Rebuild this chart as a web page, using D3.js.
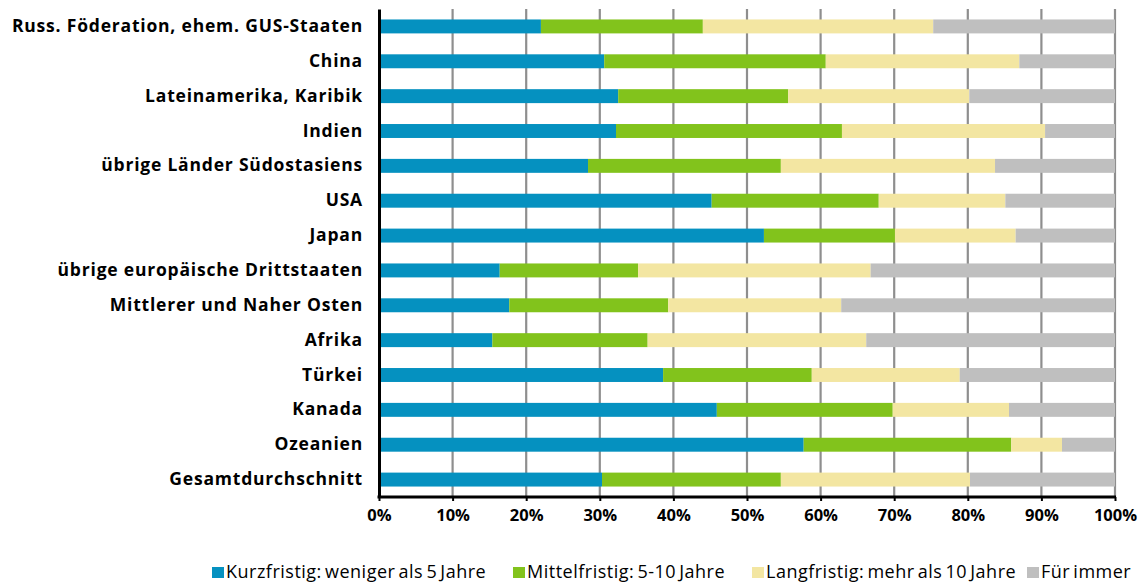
<!DOCTYPE html>
<html>
<head>
<meta charset="utf-8">
<script src="https://cdn.jsdelivr.net/npm/d3@7/dist/d3.min.js"></script>
<style>
  html, body { margin: 0; padding: 0; background: #fff; }
  svg { display: block; }
  text { font-family: "Open Sans", "DejaVu Sans", sans-serif; }
</style>
</head>
<body>
<svg id="chart" width="1148" height="584"></svg>
<script>
// Regions, top to bottom
const categories = [
  "Russ. Föderation, ehem. GUS-Staaten",
  "China",
  "Lateinamerika, Karibik",
  "Indien",
  "übrige Länder Südostasiens",
  "USA",
  "Japan",
  "übrige europäische Drittstaaten",
  "Mittlerer und Naher Osten",
  "Afrika",
  "Türkei",
  "Kanada",
  "Ozeanien",
  "Gesamtdurchschnitt"
];

// Share (%) of each planned stay duration
const kurzfristig  = [22.0, 30.6, 32.5, 32.2, 28.4, 45.2, 52.3, 16.4, 17.7, 15.4, 38.6, 45.9, 57.7, 30.3];
const mittelfristig = [22.0, 30.1, 23.1, 30.7, 26.2, 22.7, 17.8, 18.8, 21.6, 21.1, 20.2, 23.9, 28.2, 24.3];
const langfristig  = [31.3, 26.3, 24.6, 27.6, 29.1, 17.2, 16.4, 31.6, 23.5, 29.7, 20.1, 15.8, 6.9, 25.7];
const fuerImmer    = [24.7, 13.0, 19.8, 9.5, 16.3, 14.9, 13.5, 33.2, 37.2, 33.8, 21.1, 14.4, 7.2, 19.7];

const seriesNames = [
  "Kurzfristig: weniger als 5 Jahre",
  "Mittelfristig: 5-10 Jahre",
  "Langfristig: mehr als 10 Jahre",
  "Für immer"
];
const seriesColors = ["#0591c0", "#82c31c", "#f3e6a2", "#bfbfbf"];
const xTicks = [0, 10, 20, 30, 40, 50, 60, 70, 80, 90, 100];

const seriesValues = [kurzfristig, mittelfristig, langfristig, fuerImmer];
const rows = categories.map((c, i) => {
  const r = { category: c };
  seriesNames.forEach((s, k) => { r[s] = seriesValues[k][i]; });
  return r;
});

const svg = d3.select("#chart");
const margin = { left: 379, right: 33, top: 9, bottom: 87 };
const W = 1148, H = 584;

const x = d3.scaleLinear().domain([0, 100]).range([margin.left, W - margin.right]);
const y = d3.scaleBand().domain(categories).range([margin.top, H - margin.bottom]).paddingInner(0.6).paddingOuter(0.3);

// vertical gridlines
svg.append("g")
  .selectAll("line")
  .data(xTicks.filter(t => t > 0))
  .join("line")
  .attr("x1", d => x(d)).attr("x2", d => x(d))
  .attr("y1", margin.top).attr("y2", H - margin.bottom)
  .attr("stroke", "#8e8e8e")
  .attr("stroke-width", 2.2);

// stacked bars
const stack = d3.stack().keys(seriesNames);
const stacked = stack(rows);

svg.append("g")
  .selectAll("g")
  .data(stacked)
  .join("g")
  .attr("fill", (d, i) => seriesColors[i])
  .selectAll("rect")
  .data(d => d)
  .join("rect")
  .attr("x", d => x(d[0]))
  .attr("width", d => x(d[1]) - x(d[0]))
  .attr("y", d => y(d.data.category))
  .attr("height", y.bandwidth());

// y axis (category labels)
const yAxis = svg.append("g")
  .attr("transform", `translate(${margin.left},0)`)
  .call(d3.axisLeft(y).tickSize(0).tickPadding(16));
yAxis.select(".domain").attr("stroke", "#000").attr("stroke-width", 3);
yAxis.selectAll("text")
  .attr("font-family", "'Open Sans', sans-serif")
  .attr("font-weight", "bold")
  .attr("font-size", 17.5)
  .attr("letter-spacing", 0.8)
  .attr("fill", "#000");

// x axis
const xAxis = svg.append("g")
  .attr("transform", `translate(0,${H - margin.bottom})`)
  .call(d3.axisBottom(x).tickValues(xTicks).tickFormat(d => d + "%").tickSize(4).tickPadding(8));
xAxis.select(".domain").attr("stroke", "#000").attr("stroke-width", 3)
  .attr("d", `M${margin.left - 1.5},0H${W - margin.right + 1}`);
xAxis.selectAll(".tick line").attr("stroke", "#000").attr("stroke-width", 2);
xAxis.selectAll("text")
  .attr("font-family", "'Open Sans', sans-serif")
  .attr("font-weight", "bold")
  .attr("font-size", 16.5)
  .attr("fill", "#000");

// legend
const legendX = [212, 513, 752, 1027];
const legend = svg.append("g").attr("transform", "translate(0,578)");
const li = legend.selectAll("g").data(seriesNames).join("g")
  .attr("transform", (d, i) => `translate(${legendX[i]},0)`);
li.append("rect").attr("x", 0).attr("y", -11).attr("width", 12).attr("height", 11)
  .attr("fill", (d, i) => seriesColors[i]);
li.append("text").attr("x", 14).attr("y", 0)
  .attr("font-size", 18).attr("letter-spacing", 0.5).attr("word-spacing", -2).attr("fill", "#000")
  .text(d => d);
</script>
</body>
</html>
